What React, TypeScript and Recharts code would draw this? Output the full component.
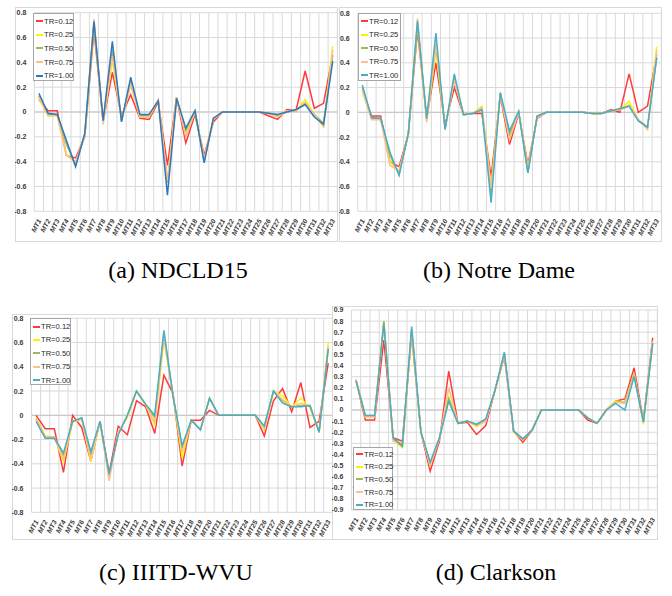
import React from "react";
import { LineChart, Line, XAxis, YAxis, CartesianGrid, ReferenceLine } from "recharts";

const CATEGORIES = [
  "MT1", "MT2", "MT3", "MT4", "MT5", "MT6", "MT7", "MT8", "MT9", "MT10", "MT11",
  "MT12", "MT13", "MT14", "MT15", "MT16", "MT17", "MT18", "MT19", "MT20", "MT21", "MT22",
  "MT23", "MT24", "MT25", "MT26", "MT27", "MT28", "MT29", "MT30", "MT31", "MT32", "MT33",
];
const SERIES_NAMES = ["TR=0.12", "TR=0.25", "TR=0.50", "TR=0.75", "TR=1.00"];

const TICKS_8 = [-0.8, -0.6, -0.4, -0.2, 0, 0.2, 0.4, 0.6, 0.8];
const TICKS_9 = [-0.9, -0.8, -0.7, -0.6, -0.5, -0.4, -0.3, -0.2, -0.1, 0, 0.1, 0.2, 0.3, 0.4, 0.5, 0.6, 0.7, 0.8, 0.9];

// (a) NDCLD15
const ndcld012 = [0.10, 0.01, 0.01, -0.35, -0.37, -0.20, 0.66, -0.08, 0.32, -0.03, 0.14, -0.05, -0.06, 0.08, -0.43, 0.12, -0.25, -0.02, -0.35, -0.08, 0, 0, 0, 0, 0, -0.03, -0.06, 0.02, 0.01, 0.33, 0.03, 0.07, 0.46];
const ndcld025 = [0.11, -0.03, -0.03, -0.34, -0.41, -0.19, 0.70, -0.08, 0.41, -0.06, 0.22, -0.04, -0.04, 0.09, -0.56, 0.12, -0.18, 0.00, -0.38, -0.06, 0, 0, 0, 0, 0, -0.01, -0.04, 0.01, 0.01, 0.10, -0.02, -0.12, 0.53];
const ndcld050 = [0.13, -0.02, -0.02, -0.26, -0.43, -0.18, 0.72, -0.07, 0.50, -0.07, 0.25, -0.03, -0.03, 0.09, -0.57, 0.11, -0.15, 0.01, -0.40, -0.06, 0, 0, 0, 0, 0, -0.01, -0.03, 0.00, 0.01, 0.07, -0.02, -0.09, 0.45];
const ndcld075 = [0.12, -0.03, -0.03, -0.35, -0.40, -0.19, 0.75, -0.10, 0.45, -0.07, 0.22, -0.04, -0.04, 0.10, -0.55, 0.12, -0.20, 0.00, -0.38, -0.06, 0, 0, 0, 0, 0, -0.01, -0.04, 0.01, 0.01, 0.08, -0.02, -0.12, 0.50];
const ndcld100 = [0.15, -0.01, -0.02, -0.23, -0.44, -0.17, 0.73, -0.07, 0.57, -0.08, 0.28, -0.02, -0.02, 0.09, -0.67, 0.11, -0.13, 0.01, -0.41, -0.05, 0, 0, 0, 0, 0, -0.01, -0.02, 0.00, 0.02, 0.06, -0.04, -0.10, 0.41];

// (b) Notre Dame
const notre012 = [0.18, -0.03, -0.03, -0.40, -0.44, -0.18, 0.66, -0.05, 0.40, -0.10, 0.20, -0.02, -0.01, -0.01, -0.52, 0.13, -0.26, -0.01, -0.42, -0.05, 0, 0, 0, 0, 0, -0.01, -0.01, 0.02, 0.00, 0.31, 0.00, 0.05, 0.47];
const notre025 = [0.17, -0.05, -0.05, -0.40, -0.48, -0.18, 0.70, -0.07, 0.50, -0.13, 0.27, -0.02, -0.01, 0.05, -0.60, 0.15, -0.20, 0.00, -0.45, -0.04, 0, 0, 0, 0, 0, -0.01, -0.01, 0.01, 0.02, 0.09, -0.06, -0.13, 0.53];
const notre050 = [0.20, -0.05, -0.05, -0.35, -0.50, -0.18, 0.72, -0.06, 0.55, -0.13, 0.28, -0.02, -0.01, 0.03, -0.65, 0.15, -0.18, 0.00, -0.49, -0.03, 0, 0, 0, 0, 0, -0.01, -0.01, 0.01, 0.02, 0.05, -0.06, -0.12, 0.45];
const notre075 = [0.18, -0.06, -0.06, -0.43, -0.47, -0.18, 0.76, -0.08, 0.55, -0.13, 0.26, -0.02, -0.01, 0.04, -0.62, 0.15, -0.22, 0.00, -0.46, -0.04, 0, 0, 0, 0, 0, -0.01, -0.01, 0.01, 0.02, 0.06, -0.06, -0.14, 0.50];
const notre100 = [0.22, -0.04, -0.05, -0.32, -0.51, -0.17, 0.74, -0.05, 0.64, -0.14, 0.31, -0.02, -0.01, 0.02, -0.73, 0.16, -0.15, 0.01, -0.49, -0.03, 0, 0, 0, 0, 0, -0.01, -0.01, 0.01, 0.03, 0.05, -0.07, -0.12, 0.44];

// (c) IIITD-WVU
const iiitd012 = [0.00, -0.11, -0.11, -0.47, 0.00, -0.10, -0.38, -0.05, -0.48, -0.09, -0.16, 0.12, 0.07, -0.15, 0.33, 0.18, -0.42, -0.04, -0.04, 0.04, 0, 0, 0, 0, 0, -0.17, 0.12, 0.22, 0.03, 0.27, -0.10, -0.05, 0.43];
const iiitd025 = [-0.02, -0.17, -0.18, -0.38, -0.06, -0.03, -0.38, -0.05, -0.52, -0.14, -0.02, 0.20, 0.09, -0.08, 0.62, 0.17, -0.35, -0.04, -0.12, 0.14, 0, 0, 0, 0, 0, -0.12, 0.20, 0.16, 0.07, 0.14, 0.06, -0.14, 0.60];
const iiitd050 = [-0.03, -0.18, -0.18, -0.34, -0.05, -0.03, -0.33, -0.05, -0.50, -0.15, 0.00, 0.20, 0.09, -0.02, 0.67, 0.16, -0.27, -0.04, -0.12, 0.14, 0, 0, 0, 0, 0, -0.09, 0.20, 0.12, 0.07, 0.08, 0.08, -0.14, 0.55];
const iiitd075 = [-0.03, -0.18, -0.18, -0.36, -0.05, -0.03, -0.36, -0.05, -0.54, -0.14, -0.01, 0.20, 0.09, -0.06, 0.65, 0.16, -0.30, -0.04, -0.12, 0.14, 0, 0, 0, 0, 0, -0.11, 0.20, 0.13, 0.07, 0.10, 0.08, -0.14, 0.57];
const iiitd100 = [-0.05, -0.19, -0.19, -0.31, -0.05, -0.02, -0.30, -0.05, -0.48, -0.16, 0.00, 0.20, 0.09, 0.00, 0.70, 0.16, -0.25, -0.04, -0.12, 0.14, 0, 0, 0, 0, 0, -0.09, 0.20, 0.10, 0.07, 0.07, 0.08, -0.14, 0.55];

// (d) Clarkson
const clark012 = [0.27, -0.09, -0.09, 0.63, -0.25, -0.28, 0.68, -0.20, -0.55, -0.28, 0.35, -0.12, -0.11, -0.22, -0.14, 0.18, 0.48, -0.19, -0.29, -0.18, 0, 0, 0, 0, 0, -0.09, -0.12, 0.00, 0.08, 0.10, 0.38, -0.10, 0.65];
const clark025 = [0.27, -0.06, -0.06, 0.80, -0.27, -0.34, 0.70, -0.20, -0.50, -0.25, 0.12, -0.12, -0.10, -0.15, -0.10, 0.18, 0.50, -0.20, -0.27, -0.18, 0, 0, 0, 0, 0, -0.07, -0.12, 0.00, 0.08, 0.07, 0.33, -0.13, 0.62];
const clark050 = [0.27, -0.05, -0.05, 0.80, -0.26, -0.33, 0.72, -0.20, -0.48, -0.25, 0.10, -0.12, -0.10, -0.13, -0.09, 0.18, 0.51, -0.19, -0.26, -0.18, 0, 0, 0, 0, 0, -0.07, -0.12, 0.00, 0.07, 0.07, 0.32, -0.10, 0.60];
const clark075 = [0.28, -0.06, -0.06, 0.78, -0.28, -0.30, 0.72, -0.20, -0.50, -0.26, 0.20, -0.12, -0.10, -0.14, -0.10, 0.18, 0.50, -0.19, -0.27, -0.18, 0, 0, 0, 0, 0, -0.07, -0.12, 0.00, 0.07, 0.06, 0.31, -0.11, 0.62];
const clark100 = [0.26, -0.05, -0.05, 0.78, -0.25, -0.32, 0.75, -0.20, -0.47, -0.25, 0.08, -0.12, -0.10, -0.13, -0.08, 0.18, 0.52, -0.19, -0.26, -0.18, 0, 0, 0, 0, 0, -0.07, -0.12, 0.00, 0.06, 0.00, 0.30, -0.11, 0.60];

const RED = "#ff3a3a";
const YELLOW = "#f9f500";
const GREEN = "#9bbb59";
const PEACH = "#fac090";
const BLUE_DARK = "#2e78c0";
const BLUE_LIGHT = "#4bacc6";

const GRID = "#d9d9d9";
const SANS = "'Liberation Sans', Arial, sans-serif";
const SERIF = "'Liberation Serif', 'Times New Roman', Times, serif";
const KEYS = ["s0", "s1", "s2", "s3", "s4"];

type Box = { x: number; y: number; w: number; h: number };
type Plot = { l: number; t: number; r: number; b: number };
type LegendSpec = { x: number; y: number; w: number; h: number; first: number; step: number; font: number };

const buildRows = (series: number[][]) =>
  CATEGORIES.map((name, i) => {
    const row: Record<string, number | string> = { i: i + 1, name };
    series.forEach((s, k) => (row[KEYS[k]] = s[i]));
    return row;
  });

const XTick = (props: any) => {
  const { x, y, payload } = props;
  return (
    <g transform={`translate(${x},${y})`}>
      <text
        x={0}
        y={0}
        dy={3}
        textAnchor="end"
        transform="rotate(-62)"
        fontSize={6.8}
        fontWeight="bold"
        fontStyle="italic"
        fill="#3a3a3a"
        fontFamily={SANS}
      >
        {CATEGORIES[payload.value - 1]}
      </text>
    </g>
  );
};

const fmtTick = (v: number) => (Math.abs(v) < 1e-9 ? "0" : v.toFixed(1));

interface PanelProps {
  frame: Box;
  plot: Plot;
  ticks: number[];
  series: number[][];
  colors: string[];
  legend: LegendSpec;
}

const Panel = ({ frame, plot, ticks, series, colors, legend }: PanelProps) => {
  const YW = 12;
  const XH = 22;
  const margin = {
    top: plot.t - frame.y,
    left: plot.l - frame.x - YW,
    right: frame.x + frame.w - plot.r,
    bottom: frame.y + frame.h - plot.b - XH,
  };
  const rows = buildRows(series);
  const domain: [number, number] = [ticks[0], ticks[ticks.length - 1]];

  return (
    <>
      <div
        style={{
          position: "absolute",
          left: frame.x,
          top: frame.y,
          width: frame.w,
          height: frame.h,
          border: `1px solid ${GRID}`,
          boxSizing: "border-box",
        }}
      />
      <div style={{ position: "absolute", left: frame.x, top: frame.y }}>
        <LineChart width={frame.w} height={frame.h} data={rows} margin={margin}>
          <CartesianGrid stroke={GRID} vertical={false} />
          {CATEGORIES.map((_, k) => (
            <ReferenceLine key={`v${k}`} x={k + 0.5} stroke={GRID} />
          ))}
          <ReferenceLine x={CATEGORIES.length + 0.5} stroke={GRID} />
          <ReferenceLine y={0} stroke="#c4c4c4" />
          <XAxis
            dataKey="i"
            type="number"
            domain={[0.5, CATEGORIES.length + 0.5]}
            ticks={CATEGORIES.map((_, k) => k + 1)}
            interval={0}
            height={XH}
            axisLine={false}
            tickLine={false}
            tick={<XTick />}
          />
          <YAxis
            type="number"
            domain={domain}
            ticks={ticks}
            interval={0}
            width={YW}
            axisLine={false}
            tickLine={false}
            tickFormatter={fmtTick}
            tick={{ fontSize: 7, fontWeight: "bold", fill: "#3a3a3a", fontFamily: SANS }}
          />
          {KEYS.map((k, idx) => (
            <Line
              key={k}
              dataKey={k}
              type="linear"
              stroke={colors[idx]}
              strokeWidth={1.5}
              dot={false}
              isAnimationActive={false}
            />
          ))}
        </LineChart>
      </div>
      <div
        style={{
          position: "absolute",
          left: legend.x,
          top: legend.y,
          width: legend.w,
          height: legend.h,
          border: "1px solid #a6a6a6",
          boxSizing: "border-box",
          background: "#fff",
        }}
      >
        {SERIES_NAMES.map((name, idx) => (
          <div
            key={name}
            style={{
              position: "absolute",
              left: 2,
              top: legend.first + idx * legend.step - 6,
              height: 12,
              display: "flex",
              alignItems: "center",
              fontFamily: SANS,
              fontSize: legend.font,
              color: "#262626",
              whiteSpace: "nowrap",
            }}
          >
            <span style={{ display: "inline-block", width: 7, height: 2, background: colors[idx], marginRight: 1 }} />
            {name}
          </div>
        ))}
      </div>
    </>
  );
};

const Caption = ({ x, y, text }: { x: number; y: number; text: string }) => (
  <div
    style={{
      position: "absolute",
      left: x - 150,
      top: y,
      width: 300,
      textAlign: "center",
      fontFamily: SERIF,
      fontSize: 24,
      lineHeight: "24px",
      color: "#000",
    }}
  >
    {text}
  </div>
);

export default function App() {
  const colorsA = [RED, YELLOW, GREEN, PEACH, BLUE_DARK];
  const colorsB = [RED, YELLOW, GREEN, PEACH, BLUE_LIGHT];
  return (
    <div
      style={{
        position: "absolute",
        left: 0,
        top: 0,
        width: 672,
        height: 596,
        background: "#fff",
        overflow: "hidden",
      }}
    >
      <Panel
        frame={{ x: 15, y: 7, w: 323, h: 235 }}
        plot={{ l: 34.3, t: 12.7, r: 337.3, b: 211.3 }}
        ticks={TICKS_8}
        series={[ndcld012, ndcld025, ndcld050, ndcld075, ndcld100]}
        colors={colorsA}
        legend={{ x: 33, y: 13, w: 41, h: 68, first: 7, step: 13.7, font: 7.6 }}
      />
      <Panel
        frame={{ x: 339, y: 7, w: 323, h: 235 }}
        plot={{ l: 357.7, t: 13.3, r: 661.3, b: 211.3 }}
        ticks={TICKS_8}
        series={[notre012, notre025, notre050, notre075, notre100]}
        colors={colorsB}
        legend={{ x: 358, y: 13, w: 43, h: 68, first: 7, step: 13.5, font: 7.6 }}
      />
      <Panel
        frame={{ x: 12, y: 314, w: 321, h: 226 }}
        plot={{ l: 31.5, t: 318.3, r: 332.8, b: 512.3 }}
        ticks={TICKS_8}
        series={[iiitd012, iiitd025, iiitd050, iiitd075, iiitd100]}
        colors={colorsB}
        legend={{ x: 30, y: 318, w: 41, h: 67, first: 7.5, step: 13.4, font: 7.6 }}
      />
      <Panel
        frame={{ x: 332, y: 306, w: 326, h: 234 }}
        plot={{ l: 351.4, t: 310, r: 657.3, b: 510 }}
        ticks={TICKS_9}
        series={[clark012, clark025, clark050, clark075, clark100]}
        colors={colorsB}
        legend={{ x: 353, y: 447, w: 40, h: 63, first: 6, step: 12.7, font: 7.6 }}
      />
      <Caption x={178} y={258} text="(a) NDCLD15" />
      <Caption x={499} y={258} text="(b) Notre Dame" />
      <Caption x={176} y={560} text="(c) IIITD-WVU" />
      <Caption x={496} y={560} text="(d) Clarkson" />
    </div>
  );
}
